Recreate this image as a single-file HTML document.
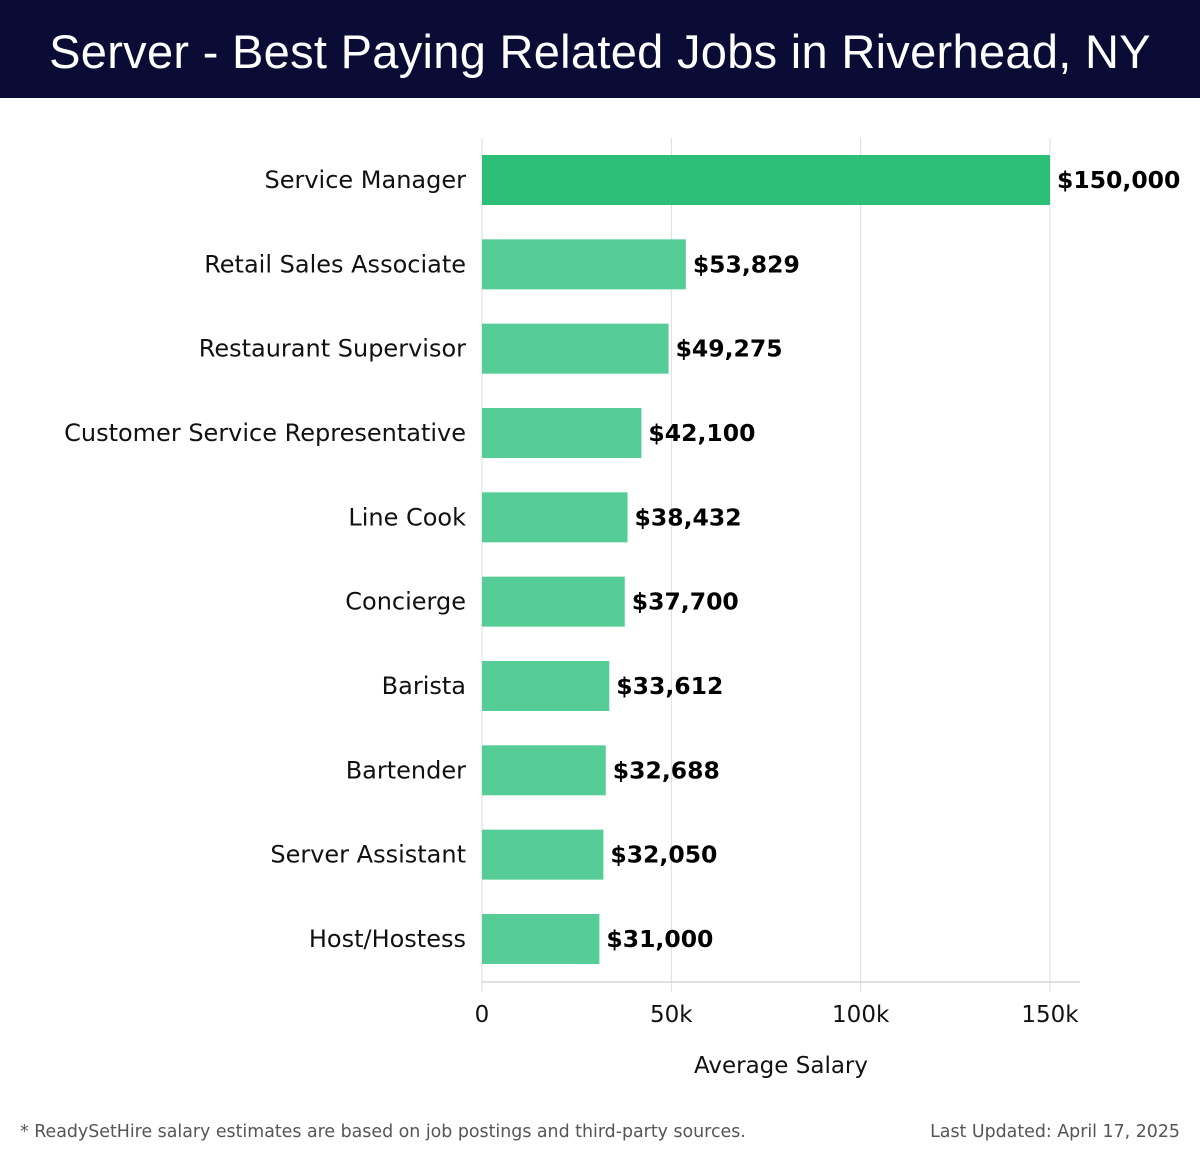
<!DOCTYPE html>
<html><head><meta charset="utf-8"><style>
body{margin:0;width:1200px;height:1158px;background:#fff;font-family:"DejaVu Sans","Liberation Sans",sans-serif;overflow:hidden}
#hdr{position:absolute;left:0;top:0;width:1200px;height:98px;background:#0b0c36;color:#fff;font-family:"Liberation Sans",sans-serif;font-size:47px;text-align:center;line-height:104px;letter-spacing:0.3px}
svg{position:absolute;left:0;top:0}
</style></head><body>
<div id="hdr">Server - Best Paying Related Jobs in Riverhead, NY</div>
<svg id="chart" width="1200" height="1158"></svg>
<script>
const categories=["Service Manager","Retail Sales Associate","Restaurant Supervisor","Customer Service Representative","Line Cook","Concierge","Barista","Bartender","Server Assistant","Host/Hostess"];
const salaries=[150000,53829,49275,42100,38432,37700,33612,32688,32050,31000];
const tickValues=[0,50000,100000,150000];
const tickLabels=["0","50k","100k","150k"];
const NS="http://www.w3.org/2000/svg";
const svg=document.getElementById('chart');
const x=v=>482+v*(568/150000);
const yc=i=>180+i*84.33;
function mk(t,a,txt){const e=document.createElementNS(NS,t);for(const k in a)e.setAttribute(k,a[k]);if(txt!=null)e.textContent=txt;svg.appendChild(e);return e;}
tickValues.forEach((v,i)=>{
 const g=mk('line',{x1:x(v),x2:x(v),y1:138,y2:992,stroke:'#dddddd','stroke-width':1});
 
 
 const t=mk('text',{x:x(v),y:1022,'text-anchor':'middle','font-size':23,fill:'#111'},tickLabels[i]);
 
 
});
const ax=mk('line',{x1:482,x2:1080,y1:982,y2:982,stroke:'#d5d5d5','stroke-width':1.5});


categories.forEach((c,i)=>{
 const cy=yc(i);
 const r=mk('rect',{x:482,y:cy-25,width:x(salaries[i])-482,height:50,fill:i==0?'#2dbe78':'#56cd96'});
 
 
 const l=mk('text',{x:466,y:cy+8,'text-anchor':'end','font-size':24,fill:'#111'},c);
 
 
 const v=mk('text',{x:x(salaries[i])+7,y:cy+8,'font-size':23.5,'font-weight':'bold',fill:'#000'},'$'+salaries[i].toLocaleString('en-US'));
 
 
});
const at=mk('text',{x:781,y:1073,'text-anchor':'middle','font-size':23,fill:'#111'},'Average Salary');


const f1=mk('text',{x:20,y:1137,'font-size':17.4,fill:'#555'},'* ReadySetHire salary estimates are based on job postings and third-party sources.');


const f2=mk('text',{x:1180,y:1137,'text-anchor':'end','font-size':17.4,fill:'#555'},'Last Updated: April 17, 2025');


</script>
</body></html>
